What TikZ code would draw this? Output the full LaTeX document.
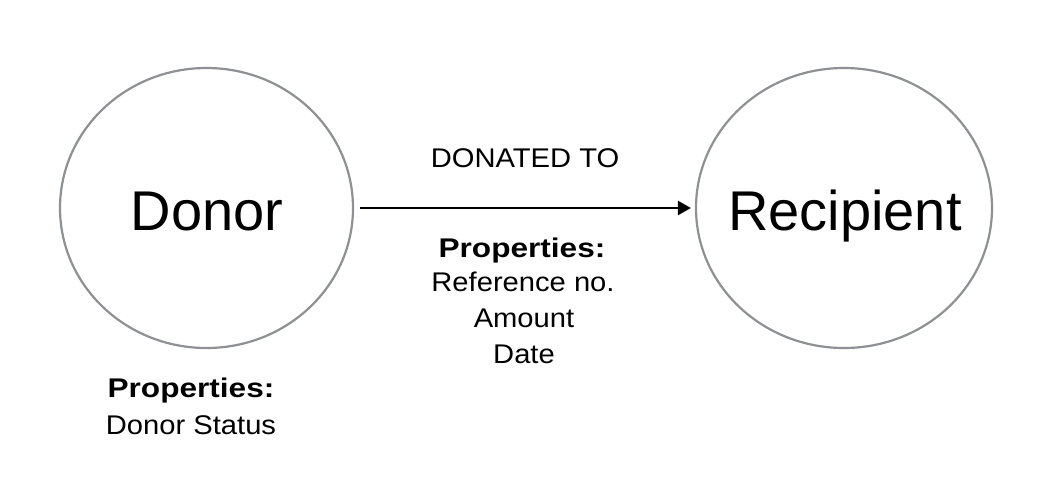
\documentclass[tikz,border=0pt]{standalone}
\usepackage{fontspec}
\setmainfont{Liberation Sans}
\newfontfamily\smallf[FakeStretch=1.08]{Liberation Sans}
\newfontfamily\boldf[FakeStretch=1.17]{Liberation Sans}
\usetikzlibrary{arrows.meta,shapes.geometric}
\definecolor{ringgray}{HTML}{8E9094}
\tikzset{
  entity/.style={ellipse, draw=ringgray, line width=2.2pt, inner sep=0pt, minimum height=280pt},
  bigtext/.style={anchor=base, inner sep=0pt, font=\fontsize{56}{60}\selectfont},
  label/.style={anchor=base, inner sep=0pt, font=\smallf\fontsize{27}{30}\selectfont},
  proplabel/.style={anchor=base, inner sep=0pt, font=\boldf\bfseries\fontsize{27}{30}\selectfont},
  rel/.style={line width=2.6pt, -{Triangle[length=13pt,width=14pt]}, shorten <=6pt, shorten >=4pt}
}
\begin{document}
\begin{tikzpicture}[x=1pt,y=-1pt]
\useasboundingbox (0,0) rectangle (1058,498);
\node[entity, minimum width=293pt] (donor) at (206.5,208) {};
\node[entity, minimum width=296pt] (recipient) at (844,208) {};
\node[bigtext] (donorname) at (207,230) {Donor};
\node[bigtext] (recipientname) at (845,230) {Recipient};
\draw[rel] (donor) -- (recipient);
\node[label] (reltype) at (525,167) {DONATED TO};
\node[proplabel] (relprops) at (522,257) {Properties:};
\node[label] (ref) at (523,291) {Reference no.};
\node[label] (amount) at (524,327) {Amount};
\node[label] (date) at (524,363) {Date};
\node[proplabel] (donorprops) at (191,397) {Properties:};
\node[label] (status) at (191,434) {Donor Status};
\end{tikzpicture}
\end{document}
